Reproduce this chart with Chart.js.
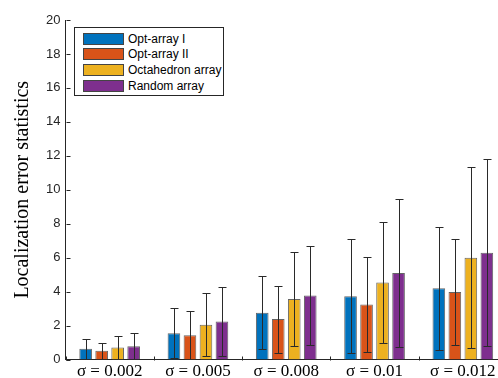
<!DOCTYPE html>
<html>
<head>
<meta charset="utf-8">
<script src="https://cdn.jsdelivr.net/npm/chart.js@4.4.1/dist/chart.umd.min.js"></script>
<style>
  html, body { margin: 0; padding: 0; background: #fff; overflow: hidden; width: 498px; height: 378px; }
  #wrap { position: absolute; left: 0; top: 0; width: 560px; height: 400px; }
  #legend { position: absolute; left: 74px; top: 27px; width: 150px; height: 69px; border: 1px solid #262626; background: #fff; box-sizing: border-box;
            font-family: 'Liberation Sans', Arial, sans-serif; font-size: 12px; color: #000; padding-top: 3px; white-space: nowrap; }
  .item { height: 15.6px; display: flex; align-items: center; }
  .sw { width: 41px; height: 12px; margin-left: 8px; margin-right: 4px; border: 1px solid #444; box-sizing: border-box; flex: none; }
</style>
</head>
<body>
<div id="wrap"><canvas id="c" width="560" height="400"></canvas></div>
<div id="legend"></div>
<script>
const categories = ['σ = 0.002', 'σ = 0.005', 'σ = 0.008', 'σ = 0.01', 'σ = 0.012'];
const seriesNames = ['Opt-array I', 'Opt-array II', 'Octahedron array', 'Random array'];
const seriesColors = ['#0072BD', '#D95319', '#EDB120', '#7E2F8E'];
const meanOptI   = [0.63, 1.55, 2.75, 3.73, 4.19];
const meanOptII  = [0.51, 1.43, 2.38, 3.24, 3.97];
const meanOcta   = [0.71, 2.04, 3.56, 4.54, 5.99];
const meanRandom = [0.78, 2.24, 3.77, 5.09, 6.29];
const stdOptI    = [0.59, 1.47, 2.16, 3.35, 3.61];
const stdOptII   = [0.46, 1.44, 1.97, 2.77, 3.14];
const stdOcta    = [0.68, 1.86, 2.75, 3.56, 5.34];
const stdRandom  = [0.79, 2.03, 2.90, 4.37, 5.52];
const yTicks = [0, 2, 4, 6, 8, 10, 12, 14, 16, 18, 20];

const means = [meanOptI, meanOptII, meanOcta, meanRandom];
const stds = [stdOptI, stdOptII, stdOcta, stdRandom];

const axisColor = '#262626';

const errorBars = {
  id: 'errorBars',
  afterDatasetsDraw(chart) {
    const ctx = chart.ctx;
    const y = chart.scales.y;
    const area = chart.chartArea;
    ctx.save();
    ctx.beginPath();
    ctx.rect(area.left, area.top - 2, area.right - area.left + 20, area.bottom - area.top + 2);
    ctx.clip();
    ctx.strokeStyle = '#2a2a2a';
    ctx.lineWidth = 1;
    chart.data.datasets.forEach((ds, di) => {
      const meta = chart.getDatasetMeta(di);
      meta.data.forEach((bar, i) => {
        const m = ds.data[i], s = ds.errors[i];
        const x = Math.round(bar.x) + 0.5;
        const yHi = Math.round(y.getPixelForValue(m + s)) + 0.5;
        const yLo = Math.round(y.getPixelForValue(m - s)) + 0.5;
        const cap = 4;
        ctx.beginPath();
        ctx.moveTo(x, yHi); ctx.lineTo(x, yLo);
        ctx.moveTo(x - cap, yHi); ctx.lineTo(x + cap, yHi);
        ctx.moveTo(x - cap, yLo); ctx.lineTo(x + cap, yLo);
        ctx.stroke();
      });
    });
    ctx.restore();
  }
};

const innerTicks = {
  id: 'innerTicks',
  afterDraw(chart) {
    const ctx = chart.ctx;
    const x = chart.scales.x, y = chart.scales.y;
    const area = chart.chartArea;
    ctx.save();
    ctx.strokeStyle = axisColor;
    ctx.lineWidth = 1;
    ctx.beginPath();
    const lx = Math.round(area.left) + 0.5;
    yTicks.forEach(v => {
      const py = Math.round(y.getPixelForValue(v)) + 0.5;
      ctx.moveTo(lx, py); ctx.lineTo(lx + 4, py);
    });
    const by = Math.round(area.bottom) + 0.5;
    for (let i = 0; i <= categories.length; i++) {
      const px = Math.round(x.getPixelForValue(i - 0.5)) + 0.5;
      ctx.moveTo(px, by); ctx.lineTo(px, by - 4);
    }
    ctx.stroke();
    ctx.restore();
  }
};

const datasets = seriesNames.map((name, k) => ({
  label: name,
  data: means[k],
  errors: stds[k],
  backgroundColor: seriesColors[k],
  borderColor: 'rgba(50,50,50,0.75)',
  borderWidth: 1,
  barPercentage: 0.79,
  categoryPercentage: 0.725
}));

const chart = new Chart(document.getElementById('c'), {
  type: 'bar',
  data: { labels: categories, datasets },
  options: {
    responsive: false,
    animation: false,
    devicePixelRatio: 1,
    layout: { padding: { top: 20, right: 53, left: 0, bottom: 0 } },
    plugins: { legend: { display: false }, tooltip: { enabled: false } },
    scales: {
      x: {
        grid: { display: false, drawTicks: false },
        border: { display: true, color: axisColor, width: 1 },
        ticks: { color: '#000', font: { family: "'Liberation Serif', 'Times New Roman', serif", size: 17 }, padding: 2, maxRotation: 0, autoSkip: false },
        afterFit(s) { s.height = 40.5; }
      },
      y: {
        min: 0, max: 20,
        afterBuildTicks(s) { s.ticks = yTicks.map(v => ({ value: v })); },
        grid: { display: false, drawTicks: false },
        border: { display: true, color: axisColor, width: 1 },
        ticks: { color: '#262626', font: { family: "'Liberation Sans', Arial, sans-serif", size: 13 }, padding: 5 },
        title: { display: true, text: 'Localization error statistics', color: '#000',
                 font: { family: "'Liberation Serif', 'Times New Roman', serif", size: 20 }, padding: { top: 11, bottom: 0 } },
        afterFit(s) { s.width = 65.5; }
      }
    }
  },
  plugins: [errorBars, innerTicks]
});

const legend = document.getElementById('legend');
chart.data.datasets.forEach(ds => {
  const row = document.createElement('div');
  row.className = 'item';
  const sw = document.createElement('span');
  sw.className = 'sw';
  sw.style.background = ds.backgroundColor;
  const t = document.createElement('span');
  t.textContent = ds.label;
  row.appendChild(sw); row.appendChild(t);
  legend.appendChild(row);
});
</script>
</body>
</html>
